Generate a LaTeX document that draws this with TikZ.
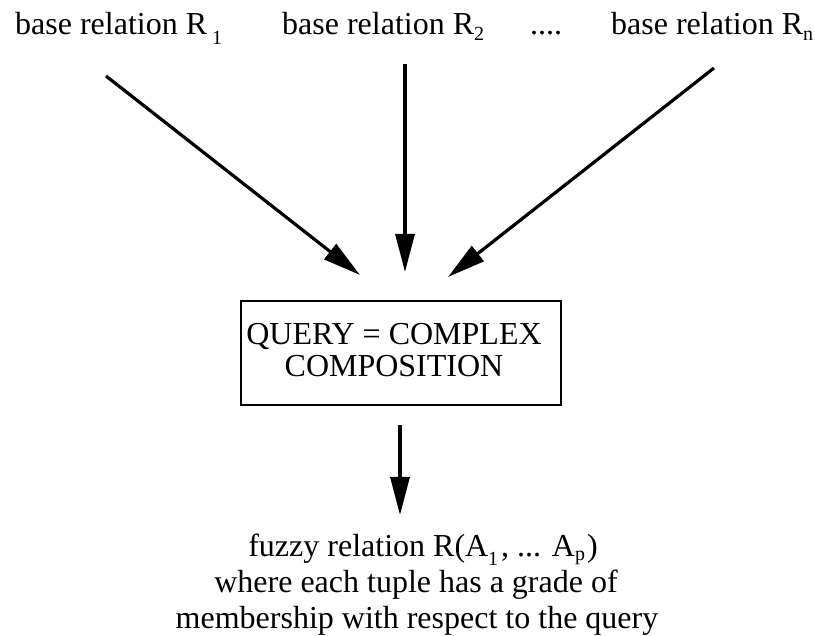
\documentclass[tikz,border=0pt]{standalone}
\usepackage{fontspec}
\setmainfont{Liberation Serif}
\usetikzlibrary{arrows.meta}
\newcommand{\sbx}[2][6pt]{\smash{\raisebox{-#1}{\fontsize{20}{20}\selectfont #2}}}
\begin{document}
\begin{tikzpicture}[x=1pt,y=-1pt,
  top/.style={font=\fontsize{32}{34}\selectfont, inner sep=0pt, anchor=base west},
  txt/.style={font=\fontsize{32}{32}\selectfont, inner sep=0pt, align=center, anchor=base},
  arr/.style={line width=3.2pt, -{Triangle[length=38pt,width=19pt]}}]
\useasboundingbox (0,0) rectangle (815,636);
\node[top] (b1) at (15,35) {base relation R\hspace{5pt}\sbx[10pt]{1}};
\node[top] (b2) at (282,35) {base relation R\sbx{2}};
\node[top] (dots) at (530,35) {....};
\node[top] (bn) at (611,35) {base relation R\sbx{n}};
\coordinate (s1) at (106,76);
\coordinate (s2) at (405,64);
\coordinate (s3) at (714,68);
\coordinate (t1) at (360,275);
\coordinate (t2) at (405,272);
\coordinate (t3) at (448,277);
\node[draw, line width=2.2pt, minimum width=320pt, minimum height=104pt, inner sep=0pt] (q) at (401,353) {};
\node[txt] (qt) at (394,377) {QUERY = COMPLEX\\COMPOSITION};
\coordinate (d0) at (400,425);
\coordinate (d1) at (400,515);
\node[txt] (f1) at (423,557) {fuzzy relation R(A\sbx[9pt]{1}\hspace{3pt}, ... A\sbx[4pt]{p}\hspace{2pt})};
\node[txt] (f2) at (416,593) {where each tuple has a grade of};
\node[txt] (f3) at (417,628) {membership with respect to the query};
\draw[arr] (s1) -- (t1);
\draw[arr] (s2) -- (t2);
\draw[arr] (s3) -- (t3);
\draw[arr] (d0) -- (d1);
\end{tikzpicture}
\end{document}
